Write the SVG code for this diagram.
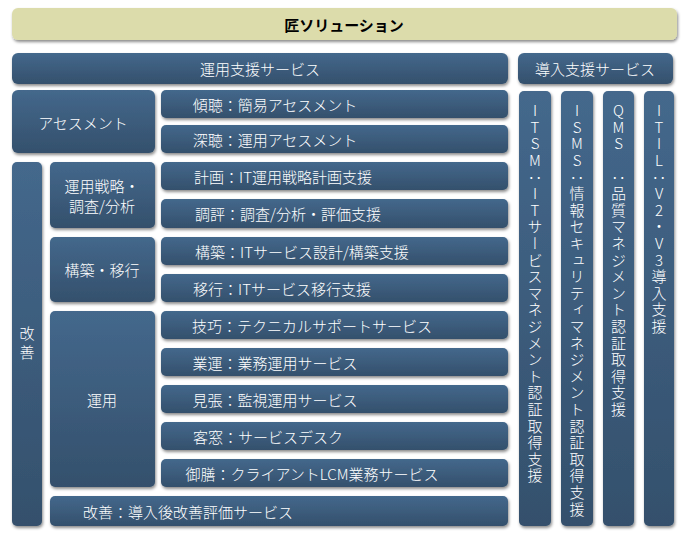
<svg xmlns="http://www.w3.org/2000/svg" width="687" height="536" viewBox="0 0 687 536">
<defs>
<filter id="sh" x="-10%" y="-10%" width="130%" height="140%"><feDropShadow dx="1" dy="2" stdDeviation="1.5" flood-color="#000" flood-opacity="0.45"/></filter>
<linearGradient id="g" x1="0" y1="0" x2="0" y2="1"><stop offset="0" stop-color="#44688c"/><stop offset="1" stop-color="#34506c"/></linearGradient>
<style>
.b{fill:url(#g);filter:url(#sh)}
.t{fill:#fff;font-family:"Noto Sans CJK JP","Liberation Sans",sans-serif;font-size:15px;font-weight:300;text-anchor:middle;dominant-baseline:central}
.v{fill:#fff;font-family:"Noto Sans CJK JP","Liberation Sans",sans-serif;font-size:15px;font-weight:300;letter-spacing:1.6px;writing-mode:vertical-rl;text-orientation:upright}
</style>
</defs>
<rect width="687" height="536" fill="#fff"/>
<g id="title"><rect x="12" y="8" width="665" height="32" rx="6" fill="#dcdcab" filter="url(#sh)"/><text x="344" y="24" class="t" style="fill:#000;font-weight:bold">匠ソリューション</text></g>
<g id="unyo"><rect class="b" x="12" y="53" width="496" height="31" rx="6"/><text class="t" x="260" y="68.5">運用支援サービス</text></g>
<g id="donyu"><rect class="b" x="518" y="53" width="155" height="31" rx="6"/><text class="t" x="595" y="68.5">導入支援サービス</text></g>
<g id="assess"><rect class="b" x="12" y="90" width="143" height="63" rx="6"/><text class="t" x="83" y="122">アセスメント</text></g>
<g id="r1"><rect class="b" x="161" y="90" width="347" height="28" rx="5"/><text class="t" x="275" y="104">傾聴：簡易アセスメント</text></g>
<g id="r2"><rect class="b" x="161" y="125" width="347" height="28" rx="5"/><text class="t" x="275" y="139">深聴：運用アセスメント</text></g>
<g id="kaizen"><rect class="b" x="12" y="162" width="30" height="364" rx="5"/><text class="t" x="27" y="342"><tspan x="27" dy="-10">改</tspan><tspan x="27" dy="19">善</tspan></text></g>
<g id="senryaku"><rect class="b" x="50" y="162" width="105" height="66" rx="5"/><text class="t" x="102" y="185">運用戦略・</text><text class="t" x="102" y="205">調査/分析</text></g>
<g id="r3"><rect class="b" x="161" y="162" width="347" height="28" rx="5"/><text class="t" x="283" y="176">計画：IT運用戦略計画支援</text></g>
<g id="r4"><rect class="b" x="161" y="199" width="347" height="29" rx="5"/><text class="t" x="288" y="213.5">調評：調査/分析・評価支援</text></g>
<g id="kouchiku"><rect class="b" x="50" y="237" width="105" height="65" rx="5"/><text class="t" x="102" y="269">構築・移行</text></g>
<g id="r5"><rect class="b" x="161" y="237" width="347" height="28" rx="5"/><text class="t" x="302" y="251">構築：ITサービス設計/構築支援</text></g>
<g id="r6"><rect class="b" x="161" y="274" width="347" height="28" rx="5"/><text class="t" x="282" y="288">移行：ITサービス移行支援</text></g>
<g id="unyo2"><rect class="b" x="50" y="311" width="105" height="176" rx="5"/><text class="t" x="102" y="399">運用</text></g>
<g id="r7"><rect class="b" x="161" y="311" width="347" height="28" rx="5"/><text class="t" x="312" y="325">技巧：テクニカルサポートサービス</text></g>
<g id="r8"><rect class="b" x="161" y="348" width="347" height="28" rx="5"/><text class="t" x="275" y="362">業運：業務運用サービス</text></g>
<g id="r9"><rect class="b" x="161" y="385" width="347" height="28" rx="5"/><text class="t" x="275" y="399">見張：監視運用サービス</text></g>
<g id="r10"><rect class="b" x="161" y="422" width="347" height="28" rx="5"/><text class="t" x="268" y="436">客窓：サービスデスク</text></g>
<g id="r11"><rect class="b" x="161" y="459" width="347" height="28" rx="5"/><text class="t" x="312" y="473">御膳：クライアントLCM業務サービス</text></g>
<g id="r12"><rect class="b" x="50" y="496" width="458" height="30" rx="5"/><text class="t" x="188" y="511">改善：導入後改善評価サービス</text></g>
<g id="itsm"><rect class="b" x="519" y="91" width="32" height="435" rx="5"/><text class="v" x="535" y="103">ITSM：ITサービスマネジメント認証取得支援</text></g>
<g id="isms"><rect class="b" x="561" y="91" width="32" height="435" rx="5"/><text class="v" x="577" y="103">ISMS：情報セキュリティマネジメント認証取得支援</text></g>
<g id="qms"><rect class="b" x="603" y="91" width="31" height="435" rx="5"/><text class="v" x="618.5" y="103">QMS　：品質マネジメント認証取得支援</text></g>
<g id="itil"><rect class="b" x="644" y="91" width="30" height="435" rx="5"/><text class="v" x="659" y="103">ITIL：V2・V3導入支援</text></g>
<g id="connectors"/>
</svg>
